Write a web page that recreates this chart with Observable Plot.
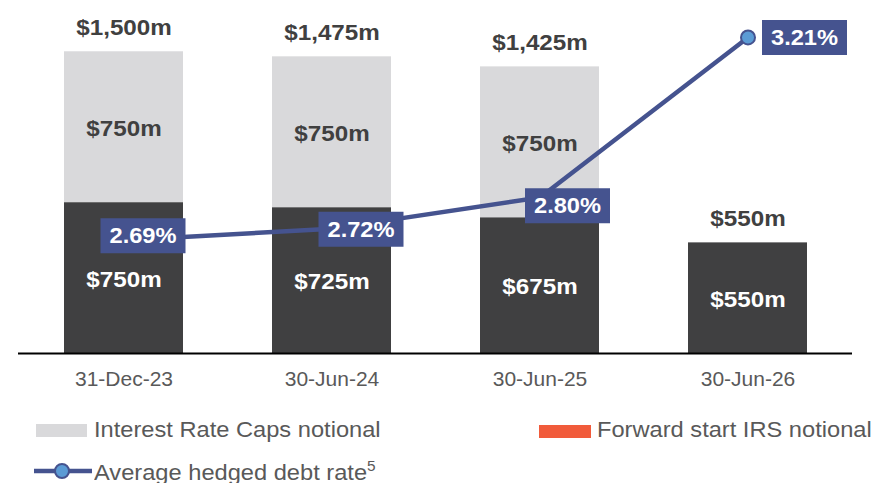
<!DOCTYPE html>
<html><head><meta charset="utf-8">
<script src="https://cdn.jsdelivr.net/npm/d3@7"></script>
<script src="https://cdn.jsdelivr.net/npm/@observablehq/plot@0.6"></script>
<style>
body{margin:0;background:#fff;font-family:"Liberation Sans",Arial,sans-serif;}
#wrap{position:relative;width:878px;height:483px;overflow:hidden;background:#fff}
#chart{position:absolute;left:0;top:0}
.leg{position:absolute;font-size:21.5px;color:#595959;white-space:nowrap;transform:scaleX(1.1);transform-origin:0 50%;line-height:1}
.leg sup{font-size:14px;vertical-align:0;position:relative;top:-9px}
.sw{position:absolute}
</style></head><body>
<div id="wrap"><div id="chart"></div><div id="legend"></div></div>
<script>
// ---- data ----
const periods = ["31-Dec-23", "30-Jun-24", "30-Jun-25", "30-Jun-26"];
const swapsNotional = [750, 725, 675, 550];   // dark segment
const capsNotional = [750, 750, 750, 0];      // light grey segment
const totalNotional = [1500, 1475, 1425, 550];
const hedgedRate = [2.69, 2.72, 2.80, 3.21];
const rateLabels = ["2.69%", "2.72%", "2.80%", "3.21%"];
const legendLabels = ["Interest Rate Caps notional", "Forward start IRS notional", "Average hedged debt rate"];

// ---- styling ----
const dark = "#404041", light = "#d9d9db", navy = "#45538f", marker = "#5b9bd5", orange = "#f15b3b";
const fmt = v => d3.format("$,")(v) + "m";

const rows = periods.flatMap((p, i) => [
  {period: p, series: "swaps", value: swapsNotional[i]},
  {period: p, series: "caps", value: capsNotional[i]}
]);
const tbl = periods.map((p, i) => ({period: p, total: totalNotional[i], rate: hedgedRate[i], label: rateLabels[i]}));

// secondary (rate) axis mapped onto the primary notional axis
const rateToY = d3.scaleLinear([2.4, 3.3], [0, 1746]);

// label nudges (px) relative to each line point
const nudge = [[19, -4.5], [29, 0.5], [27.5, 8.4], [56.5, 0]];
const box = {draw(ctx) { ctx.rect(-42.5, -17.5, 85, 35); }};

const boxMarks = tbl.flatMap((d, i) => [
  Plot.dot([d], {x: "period", y: v => rateToY(v.rate), symbol: box, r: 10, fill: navy, stroke: null, dx: nudge[i][0], dy: nudge[i][1]}),
  Plot.text([d], {x: "period", y: v => rateToY(v.rate), text: "label", fill: "white", fontWeight: "bold", fontSize: 21.5, dx: nudge[i][0], dy: nudge[i][1] + 0.5, className: "stretch"})
]);

const chart = Plot.plot({
  width: 878, height: 400,
  marginTop: 1, marginBottom: 47, marginLeft: 18, marginRight: 26,
  style: {fontFamily: '"Liberation Sans", Arial, sans-serif', background: "white", overflow: "visible"},
  x: {domain: periods, paddingInner: 0.43, paddingOuter: 0.215},
  y: {domain: [0, 1750], axis: null},
  marks: [
    Plot.barY(rows.filter(d => d.series === "swaps"), {x: "period", y: "value", fill: dark}),
    Plot.barY(rows, Plot.stackY({x: "period", y: "value", fill: d => d.series === "caps" ? light : "none", stroke: null})),
    Plot.text(rows, Plot.stackY({x: "period", y: "value", text: d => d.series === "swaps" ? fmt(d.value) : null, fill: "white", fontWeight: "bold", fontSize: 22, dy: 1.5, className: "stretch"})),
    Plot.text(rows, Plot.stackY({x: "period", y: "value", text: d => d.series === "caps" && d.value > 0 ? fmt(d.value) : null, fill: "#404040", fontWeight: "bold", fontSize: 22, dy: 1.5, className: "stretch"})),
    Plot.text(tbl, {x: "period", y: "total", text: d => fmt(d.total), fill: "#404040", fontWeight: "bold", fontSize: 22, dy: -23.5, className: "stretch"}),
    Plot.ruleY([0], {stroke: "#000", strokeWidth: 2}),
    Plot.axisX({tickSize: 0, tickPadding: 18, fontSize: 21, color: "#595959", label: null}),
    Plot.line(tbl, {x: "period", y: d => rateToY(d.rate), stroke: navy, strokeWidth: 4.5}),
    Plot.dot(tbl, {x: "period", y: d => rateToY(d.rate), r: 7, fill: marker, stroke: navy, strokeWidth: 2}),
    ...boxMarks
  ]
});
document.getElementById("chart").append(chart);

// apply slight horizontal stretch to bold labels (matches the reference text metrics)
chart.querySelectorAll("g.stretch text").forEach(t => {
  const b = t.getBBox();
  const cx = b.x + b.width / 2;
  const old = t.getAttribute("transform") || "";
  t.setAttribute("transform", `${old} translate(${cx},0) scale(1.1,1) translate(${-cx},0)`);
});

// ---- legend ----
const leg = document.getElementById("legend");
leg.innerHTML = `
  <div class="sw" style="left:36px;top:424px;width:51px;height:13px;background:${light}"></div>
  <div class="leg" style="left:94px;top:419.5px">${legendLabels[0]}</div>
  <div class="sw" style="left:539px;top:425px;width:52px;height:13px;background:${orange}"></div>
  <div class="leg" style="left:597px;top:419.5px">${legendLabels[1]}</div>
  <svg class="sw" style="left:0;top:455px" width="100" height="30">
    <line x1="34" x2="92" y1="16" y2="16" stroke="${navy}" stroke-width="4.5"/>
    <circle cx="62" cy="16" r="7" fill="${marker}" stroke="${navy}" stroke-width="2"/>
  </svg>
  <div class="leg" style="left:94px;top:462.5px">${legendLabels[2]}<sup>5</sup></div>`;
</script>
</body></html>
